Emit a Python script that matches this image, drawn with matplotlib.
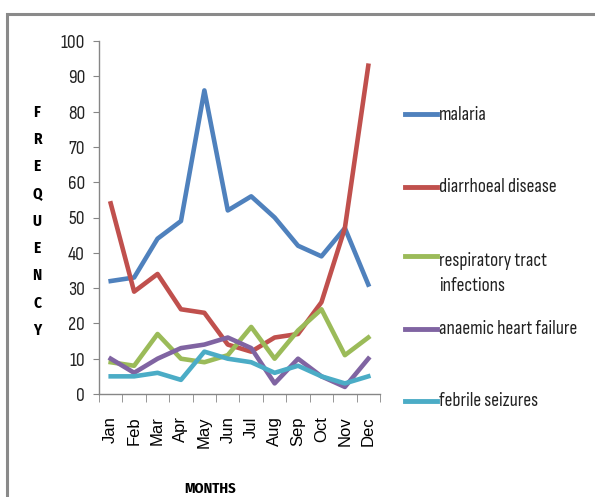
import matplotlib
matplotlib.use("Agg")
import matplotlib.pyplot as plt
from matplotlib.patches import Rectangle
from matplotlib.lines import Line2D

months = ["Jan", "Feb", "Mar", "Apr", "May", "Jun", "Jul", "Aug", "Sep", "Oct", "Nov", "Dec"]
malaria = [32, 33, 44, 49, 86, 52, 56, 50, 42, 39, 47, 31]
diarrhoea = [54, 29, 34, 24, 23, 14, 12, 16, 17, 26, 47, 93]
respiratory = [9, 8, 17, 10, 9, 11, 19, 10, 18, 24, 11, 16]
anaemic = [10, 6, 10, 13, 14, 16, 13, 3, 10, 5, 2, 10]
febrile = [5, 5, 6, 4, 12, 10, 9, 6, 8, 5, 3, 5]

labels = ["malaria", "diarrhoeal disease", "respiratory tract\ninfections",
          "anaemic heart failure", "febrile seizures"]
colors = ["#4F81BD", "#C0504D", "#9BBB59", "#8064A2", "#4BACC6"]
data = [malaria, diarrhoea, respiratory, anaemic, febrile]

W, H = 595, 497
narrow = ["Sofia Sans Condensed", "DejaVu Sans"]
narrow_bold = ["Fira Sans Condensed", "Open Sans Condensed", "DejaVu Sans"]

fig = plt.figure(figsize=(W / 100, H / 100), dpi=100)
ax = fig.add_axes([99 / W, 1 - 394 / H, 281 / W, 353 / H])

x = list(range(len(months)))
for vals, col in zip(data, colors):
    ax.plot(x, vals, color=col, lw=3.3)

ax.set_xlim(-0.5, 11.5)
ax.set_ylim(0, 100)
ax.set_yticks(range(0, 101, 10))
ax.set_yticklabels([str(v) for v in range(0, 101, 10)], family=narrow, fontsize=14, color="#222222")
ax.set_xticks(x)
ax.set_xticklabels(months, rotation=90, fontsize=12, family=["Liberation Sans", "DejaVu Sans"])
ax.set_xticks([i - 0.5 for i in range(13)], minor=True)
ax.tick_params(axis="x", which="major", length=0, pad=16)
ax.tick_params(axis="x", which="minor", length=5.5, color="#868686", direction="out")
ax.tick_params(axis="y", length=4.5, color="#868686", direction="out", pad=5.5)
for s in ["top", "right"]:
    ax.spines[s].set_visible(False)
for s in ["left", "bottom"]:
    ax.spines[s].set_color("#868686")
    ax.spines[s].set_linewidth(1)

# stacked vertical y label
for i, ch in enumerate("FREQUENCY"):
    fig.text(37 / W, 1 - (112 + i * 27.3) / H, ch, ha="center", va="center",
             fontsize=11, fontweight="bold", family=narrow_bold)

fig.text(210 / W, 1 - 489 / H, "MONTHS", ha="center", va="center",
         fontsize=10.5, fontweight="bold", family=narrow_bold)

# legend, placed like the original
leg_y = [114, 187, 256, 329, 401]
text_y = [115, 187, 273.5, 329, 401]
for lab, col, ly, ty in zip(labels, colors, leg_y, text_y):
    fig.add_artist(Line2D([405 / W, 437 / W], [1 - ly / H, 1 - ly / H],
                          color=col, lw=3.5, transform=fig.transFigure))
    fig.text(439 / W, 1 - ty / H, lab, ha="left", va="center", fontsize=14,
             family=narrow, color="#222222", linespacing=1.45)

# outer frame of the original figure
fig.patches.append(Rectangle((7 / W, -0.1), 1.2, 1 - 14 / H + 0.1,
                             transform=fig.transFigure, fill=False,
                             edgecolor="#8a8a8a", lw=2.2, figure=fig))

fig.savefig("out.png", dpi=100)
